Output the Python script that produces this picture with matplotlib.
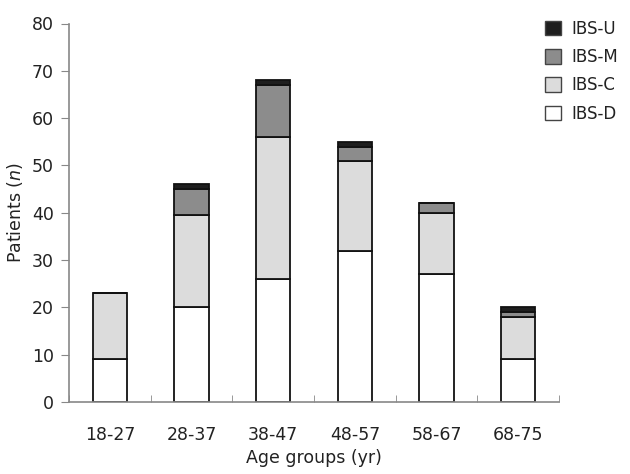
import matplotlib
matplotlib.use("Agg")
import matplotlib.pyplot as plt
from matplotlib.patches import Patch
import numpy as np

# values
age_groups = ["18-27", "28-37", "38-47", "48-57", "58-67", "68-75"]
ibs_d = [9, 20, 26, 32, 27, 9]
ibs_c = [14, 19.5, 30, 19, 13, 9]
ibs_m = [0, 5.5, 11, 3, 2, 1]
ibs_u = [0, 1, 1, 1, 0, 1]

series = [
    ("IBS-D", ibs_d, "#ffffff"),
    ("IBS-C", ibs_c, "#dcdcdc"),
    ("IBS-M", ibs_m, "#8c8c8c"),
    ("IBS-U", ibs_u, "#1e1e1e"),
]

plt.rcParams["font.family"] = ["DejaVu Sans"]
fs = 12.5
txt = "#222222"

fig = plt.figure(figsize=(6.3, 4.74), dpi=100)
ax = fig.add_axes([69 / 630, 1 - 402 / 474, (559 - 69) / 630, (402 - 23.5) / 474])

x = np.arange(len(age_groups))
bottom = np.zeros(len(age_groups))
for name, vals, col in series:
    vals = np.array(vals, dtype=float)
    ax.bar(x, vals, width=0.42, bottom=bottom, color=col,
           edgecolor="#111111", linewidth=1.3, label=name)
    bottom += vals

ax.set_xlim(-0.5, len(age_groups) - 0.5)
ax.set_ylim(0, 80)
ax.set_yticks(range(0, 81, 10))
ax.set_xticks(x)
ax.set_xticklabels(age_groups, fontsize=fs, color=txt)
ax.set_xticks(np.arange(-0.5, len(age_groups), 1), minor=True)
ax.tick_params(axis="x", which="major", length=0, pad=17)
ax.tick_params(axis="x", which="minor", direction="in", length=5, color="#888888")
ax.tick_params(axis="y", direction="out", length=6, color="#888888",
               labelsize=fs, labelcolor=txt, pad=5)

for side in ["top", "right"]:
    ax.spines[side].set_visible(False)
for side in ["left", "bottom"]:
    ax.spines[side].set_color("#888888")
    ax.spines[side].set_linewidth(1.2)

ax.set_xlabel("Age groups (yr)", fontsize=fs, color=txt, labelpad=4)
ax.set_ylabel("Patients ($\\mathit{n}$)", fontsize=fs, color=txt, labelpad=5)

handles = [Patch(facecolor=col, edgecolor="#444444", label=name)
           for name, vals, col in reversed(series)]
fig.legend(handles=handles, loc="upper left", bbox_to_anchor=(538 / 630, 1 - 13 / 474),
           frameon=False, fontsize=12, handlelength=1.0, handleheight=1.0,
           labelspacing=0.62, handletextpad=0.6, borderaxespad=0, labelcolor=txt)

fig.savefig("out.png", dpi=100)
